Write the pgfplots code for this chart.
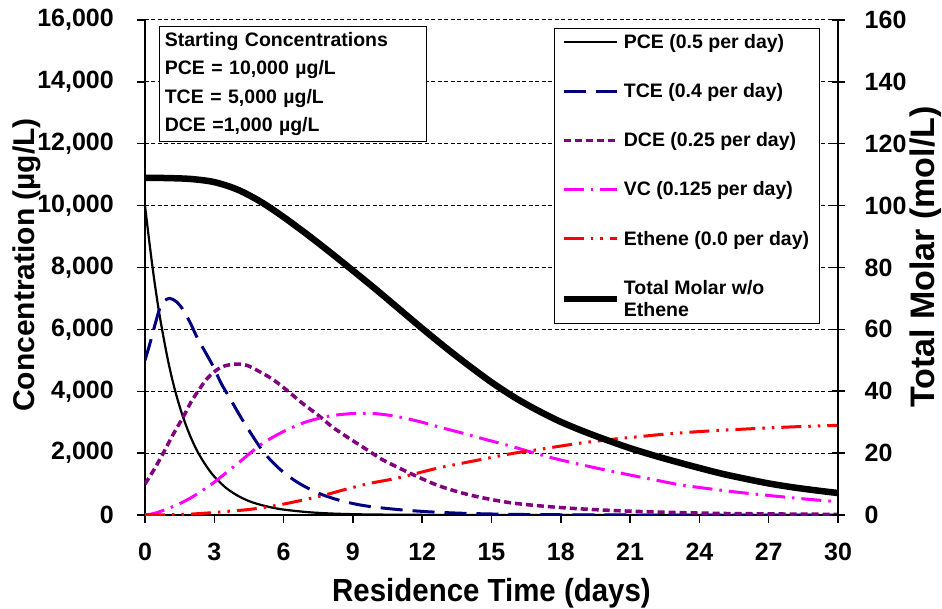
\documentclass[border=0pt]{standalone}
\usepackage{fontspec}
\setmainfont{Liberation Sans}
\newfontfamily\narrowfont{Liberation Sans}[FakeStretch=0.92]
\usepackage{pgfplots}
\usepackage{pgfplotstable}
\pgfplotsset{compat=1.18}

\definecolor{tcecol}{RGB}{0,0,128}
\definecolor{dcecol}{RGB}{128,0,128}
\definecolor{vccol}{RGB}{255,0,255}
\definecolor{ethcol}{RGB}{255,0,0}

\tikzset{
  pcestyle/.style={black, line width=2.2pt},
  tcestyle/.style={tcecol, line width=3pt, dash pattern=on 22pt off 10pt},
  dcestyle/.style={dcecol, line width=3.5pt, dash pattern=on 7pt off 4pt},
  vcstyle/.style={vccol, line width=3pt, dash pattern=on 20pt off 7pt on 2.5pt off 7pt},
  ethstyle/.style={ethcol, line width=3pt, dash pattern=on 20pt off 7pt on 2.5pt off 7pt on 2.5pt off 7pt},
  totstyle/.style={black, line width=6.5pt},
}

% concentrations in ug/L
\pgfplotstableread{
t c
0 10000
0.2 8750
0.4 7600
0.6 6600
0.8 5750
1.0 4980
1.2 4320
1.4 3760
1.6 3270
1.8 2850
2.0 2480
2.25 2080
2.5 1760
2.75 1480
3.0 1240
3.5 880
4 630
4.5 450
5 330
5.5 240
6 175
7 95
8 50
9 27
10 15
12 5
14 1
16 0
30 0
}\pcedata

\pgfplotstableread{
t c
0 5000
0.22 5560
0.45 6200
0.65 6700
0.85 6930
1.08 7000
1.35 6900
1.66 6625
2.0 6150
2.24 5763
2.6 5280
2.96 4793
3.3 4250
3.68 3771
4.0 3350
4.4 2854
5.12 2046
5.84 1480
6.57 1070
7.43 730
8.3 500
9.2 340
10 250
11.2 160
12.5 95
14 50
16 20
18 8
21 0
30 0
}\tcedata

\pgfplotstableread{
t c
0 1000
0.4 1480
0.79 2000
1.2 2580
1.66 3177
2.0 3660
2.38 4095
2.7 4420
3.1 4687
3.5 4830
4.0 4880
4.4 4840
4.83 4687
5.5 4400
6.13 4040
6.8 3620
7.58 3177
8.1 2850
8.73 2531
9.74 2046
10.17 1832
11.18 1454
12.63 970
14.07 646
15.8 398
17.82 250
19.84 160
22 100
25 50
30 20
}\dcedata

\pgfplotstableread{
t c
0 0
0.4 50
0.79 150
1.37 323
1.95 540
2.5 800
3.03 1077
3.6 1420
4.11 1724
4.55 2000
4.98 2262
5.5 2500
6.13 2747
7.0 3016
8.0 3200
9.0 3280
10.0 3275
11.0 3170
11.9 3016
12.8 2830
13.78 2640
14.7 2450
15.66 2262
16.6 2060
17.53 1864
18.5 1690
19.4 1540
20.3 1400
21.35 1239
22.3 1100
23.2 970
24.2 870
25.2 776
26.1 700
27.1 624
28.1 550
29.08 485
30 430
}\vcdata

\pgfplotstableread{
t c
0 0
1 5
2 30
3 80
3.39 107
4.4 170
5.1 240
5.84 330
6.85 485
7.86 660
8.73 840
9.74 1024
10.5 1130
11.2 1239
12.63 1508
14.07 1724
15.0 1860
15.94 1993
16.9 2100
17.82 2208
18.8 2320
19.7 2400
20.5 2470
21.43 2535
22.3 2600
23.3 2660
24.5 2720
25.76 2770
27 2815
28.2 2854
30 2899
}\ethdata

% total molar, right axis
\pgfplotstableread{
t m
0 109.0
1 108.9
2 108.6
3 107.6
4 105.2
5 101.3
6 96.3
7 90.8
8 85.0
9 79.0
10 72.9
11 66.6
12 60.3
13 54.2
14 48.4
15 42.9
16 38.0
17 33.8
18 30.1
19 27.0
20 24.2
21 21.6
22 19.3
23 17.2
24 15.2
25 13.3
26 11.7
27 10.2
28 9.0
29 8.0
30 7.1
}\totdata

\begin{document}
\bfseries
\begin{tikzpicture}
\begin{axis}[
  scale only axis, width=693pt, height=495pt,
  xmin=0, xmax=30, ymin=0, ymax=16000,
  axis x line*=bottom, axis y line*=left,
  axis line style={line width=2.5pt},
  xtick={0,3,...,30}, ytick={0,2000,...,16000},
  tick align=outside, major tick length=8pt,
  tick style={black, line width=1.5pt},
  ymajorgrids,
  major grid style={black, line width=1pt, dash pattern=on 4pt off 2.5pt},
  scaled y ticks=false,
  /pgf/number format/1000 sep={,},
  /pgf/number format/assume math mode=true,
  ticklabel style={font=\fontsize{25}{30}\selectfont\bfseries, inner sep=0pt},
  xticklabel style={anchor=north, yshift=-20pt},
  yticklabel style={anchor=east, xshift=-23pt},
  xlabel={Residence Time (days)},
  xlabel style={at={(axis description cs:0.5,-0.158)}, anchor=center,
    font=\narrowfont\fontsize{32}{36}\selectfont\bfseries},
  ylabel={Concentration (µg/L)},
  ylabel style={at={(axis description cs:-0.170,0.505)}, anchor=center,
    font=\fontsize{30}{34}\selectfont\bfseries},
]
\addplot[pcestyle, smooth] table[x=t, y=c] {\pcedata};
\addplot[tcestyle, smooth] table[x=t, y=c] {\tcedata};
\addplot[dcestyle, smooth] table[x=t, y=c] {\dcedata};
\addplot[vcstyle, smooth] table[x=t, y=c] {\vcdata};
\addplot[ethstyle, smooth] table[x=t, y=c] {\ethdata};

\node[draw=black, line width=1pt, fill=white, anchor=north west, align=left,
  text width=257pt, inner xsep=5pt, inner ysep=6pt,
  font=\fontsize{19.5}{28.5}\selectfont\bfseries]
  at (rel axis cs:0.0206,0.9885)
  {Starting Concentrations\\PCE = 10,000 µg/L\\TCE = 5,000 µg/L\\DCE =1,000 µg/L};
\end{axis}

\begin{axis}[
  scale only axis, width=693pt, height=495pt,
  xmin=0, xmax=30, ymin=0, ymax=160,
  axis y line*=right, axis x line=none,
  axis line style={line width=2.5pt},
  ytick={0,20,...,160},
  tick align=center, major tick length=13pt,
  tick style={black, line width=1.5pt},
  /pgf/number format/assume math mode=true,
  yticklabel style={font=\fontsize{25}{30}\selectfont\bfseries, inner sep=0pt,
    anchor=west, xshift=20pt},
  ylabel={Total Molar (mol/L)},
  ylabel style={at={(axis description cs:1.127,0.521)}, anchor=center, rotate=0,
    font=\fontsize{34}{38}\selectfont\bfseries},
  legend style={at={(rel axis cs:0.590,0.984)}, anchor=north west,
    draw=black, line width=1pt, fill=white,
    inner xsep=6pt, inner ysep=5pt, row sep=31.5pt,
    font=\fontsize{19.5}{22}\selectfont\bfseries,
    nodes={align=left, inner xsep=4pt, inner ysep=1pt}},
  legend cell align=left,
  legend image code/.code={\draw[#1] (0pt,0pt) -- (53pt,0pt);},
]
\addlegendimage{pcestyle}
\addlegendentry{PCE (0.5 per day)}
\addlegendimage{tcestyle}
\addlegendentry{TCE (0.4 per day)}
\addlegendimage{dcestyle}
\addlegendentry{DCE (0.25 per day)}
\addlegendimage{vcstyle}
\addlegendentry{VC (0.125 per day)}
\addlegendimage{ethstyle}
\addlegendentry{Ethene (0.0 per day)}
\addplot[totstyle, smooth] table[x=t, y=m] {\totdata};
\addlegendentry{Total Molar w/o\\Ethene}
\end{axis}
\pgfresetboundingbox
\path (-145pt,-93pt) rectangle (797pt,515pt);
\end{tikzpicture}
\end{document}
